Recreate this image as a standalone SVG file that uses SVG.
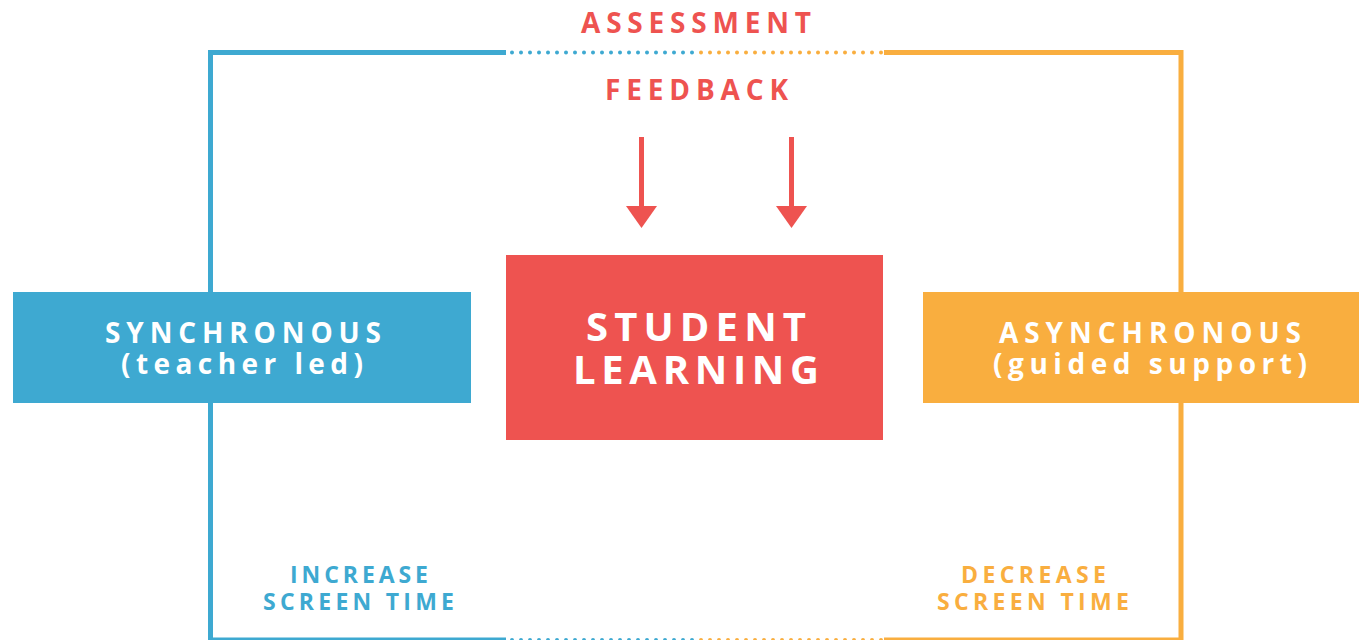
<svg xmlns="http://www.w3.org/2000/svg" width="1359" height="640" viewBox="0 0 1359 640">
  <style>
    text { font-family: "Open Sans", "Liberation Sans", sans-serif; font-weight: 700; }
    .red { fill: #EE5350; }
    .blue { fill: #3EA9D1; }
    .orange { fill: #F9AE3F; }
    .white { fill: #FFFFFF; }
    .head { font-size: 28px; }
    .big { font-size: 40px; }
    .small { font-size: 23px; }
    .frame-blue { stroke: #3EA9D1; stroke-width: 5; fill: none; }
    .frame-orange { stroke: #F9AE3F; stroke-width: 5; fill: none; }
    .dots-blue { stroke: #3EA9D1; stroke-width: 4; stroke-linecap: round; stroke-dasharray: 0 9; fill: none; }
    .dots-orange { stroke: #F9AE3F; stroke-width: 4; stroke-linecap: round; stroke-dasharray: 0 9; fill: none; }
    .arrow { stroke: #EE5350; stroke-width: 5; fill: none; }
  </style>
  <defs>
    <!-- triangular head, drawn along +x so it follows the path direction -->
    <marker id="tri" viewBox="0 0 22 31" refX="0" refY="15.5" markerWidth="22" markerHeight="31" markerUnits="userSpaceOnUse" orient="auto">
      <path d="M0,0 L22,15.5 L0,31 Z" fill="#EE5350"/>
    </marker>
  </defs>

  <rect width="1359" height="640" fill="#FFFFFF"/>

  <!-- frame around the learning cycle -->
  <g id="connectors">
    <!-- blue (synchronous) side -->
    <path class="frame-blue" d="M506,52.5 H210.5 V640 H506"/>
    <path class="dots-blue" d="M512,52.5 H693"/>
    <path class="dots-blue" d="M512,640 H693"/>
    <!-- orange (asynchronous) side -->
    <path class="frame-orange" d="M884,52.5 H1181 V640 H884"/>
    <path class="dots-orange" d="M701,52.5 H882"/>
    <path class="dots-orange" d="M701,640 H882"/>
    <!-- feedback arrows -->
    <path class="arrow" d="M641.5,137 V206" marker-end="url(#tri)"/>
    <path class="arrow" d="M791.5,137 V206" marker-end="url(#tri)"/>
  </g>

  <g id="assessment">
    <text class="red head" x="581" y="33" textLength="230" lengthAdjust="spacing">ASSESSMENT</text>
  </g>
  <g id="feedback">
    <text class="red head" x="605" y="100" textLength="183" lengthAdjust="spacing">FEEDBACK</text>
  </g>

  <g id="synchronous">
    <rect x="13" y="292" width="458" height="111" fill="#3EA9D1"/>
    <text class="white head" x="105" y="343" textLength="276" lengthAdjust="spacing">SYNCHRONOUS</text>
    <text class="white head" x="121" y="374" textLength="242" lengthAdjust="spacing">(teacher led)</text>
  </g>

  <g id="student-learning">
    <rect x="506" y="255" width="377" height="185" fill="#EE5350"/>
    <text class="white big" x="586" y="341" textLength="220" lengthAdjust="spacing">STUDENT</text>
    <text class="white big" x="573" y="384" textLength="246" lengthAdjust="spacing">LEARNING</text>
  </g>

  <g id="asynchronous">
    <rect x="923" y="292" width="436" height="111" fill="#F9AE3F"/>
    <text class="white head" x="999" y="343" textLength="302" lengthAdjust="spacing">ASYNCHRONOUS</text>
    <text class="white head" x="993" y="374" textLength="314" lengthAdjust="spacing">(guided support)</text>
  </g>

  <g id="increase">
    <text class="blue small" x="290" y="583" textLength="138" lengthAdjust="spacing">INCREASE</text>
    <text class="blue small" x="263" y="610" textLength="191" lengthAdjust="spacing">SCREEN TIME</text>
  </g>

  <g id="decrease">
    <text class="orange small" x="961" y="583" textLength="145" lengthAdjust="spacing">DECREASE</text>
    <text class="orange small" x="937" y="610" textLength="192" lengthAdjust="spacing">SCREEN TIME</text>
  </g>
</svg>
